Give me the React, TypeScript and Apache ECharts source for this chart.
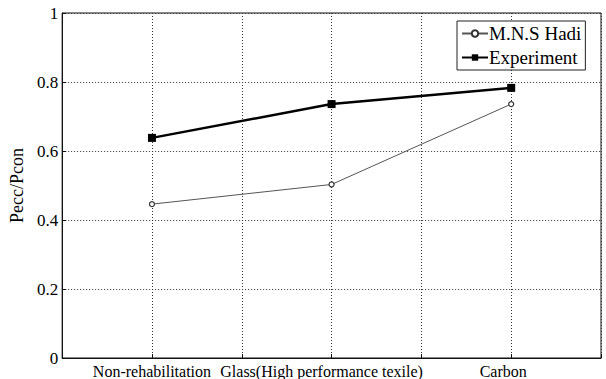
import React, { useEffect, useRef } from "react";
import * as echarts from "echarts";

// Retrofit types, placed at x = 1, 3, 5 on a 0–6 axis
const categories = ["Non-rehabilitation", "Glass(High performance texile)", "Carbon"];
const categoryPositions = [1, 3, 5];
// Pecc/Pcon ratios
const hadiValues = [0.446, 0.503, 0.736];
const experimentValues = [0.638, 0.736, 0.783];
const yTicks = [0, 0.2, 0.4, 0.6, 0.8, 1];

const SERIF = "Liberation Serif";

export default function App() {
  const ref = useRef<HTMLDivElement>(null);

  useEffect(() => {
    if (!ref.current) return;
    const chart = echarts.init(ref.current, null, { renderer: "svg" });

    const labelKeys = ["a", "b", "c"];
    const xLabelText = { fontFamily: SERIF, fontSize: 16, color: "#000" };
    const option: any = {
      animation: false,
      backgroundColor: "#fff",
      textStyle: { fontFamily: SERIF },
      grid: {
        left: 59,
        right: 5,
        top: 13,
        bottom: 21,
        show: true,
        borderColor: "#111",
        borderWidth: 1,
        backgroundColor: "transparent",
      },
      legend: {
        left: 457,
        top: 21,
        orient: "vertical",
        itemWidth: 26,
        itemHeight: 8,
        itemGap: 5,
        padding: [3, 4, 3, 4],
        borderColor: "#222",
        borderWidth: 1,
        backgroundColor: "#fff",
        textStyle: { fontFamily: SERIF, fontSize: 19, color: "#000", padding: [0, 0, 0, -4] },
        data: ["M.N.S Hadi", "Experiment"],
      },
      xAxis: {
        type: "value",
        min: 0,
        max: 6,
        interval: 1,
        axisLine: { lineStyle: { color: "#111", width: 1 } },
        axisTick: { show: true, inside: true, length: 4, lineStyle: { color: "#111" } },
        splitLine: { show: true, lineStyle: { color: "#333", type: [1, 2], width: 1 } },
        axisLabel: {
          margin: 5,
          ...xLabelText,
          formatter: (v: number) => {
            const i = categoryPositions.indexOf(v);
            return i < 0 ? "" : `{${labelKeys[i]}|${categories[i]}}`;
          },
          // right padding nudges the two right-hand labels slightly left of their marks
          rich: {
            a: { ...xLabelText, padding: [0, 0, 0, 0] },
            b: { ...xLabelText, padding: [0, 20, 0, 0] },
            c: { ...xLabelText, padding: [0, 16, 0, 0] },
          },
        },
      },
      yAxis: {
        type: "value",
        min: yTicks[0],
        max: yTicks[yTicks.length - 1],
        interval: 0.2,
        name: "Pecc/Pcon",
        nameLocation: "middle",
        nameGap: 29,
        nameTextStyle: { fontFamily: SERIF, fontSize: 18, color: "#000" },
        axisLine: { show: true, lineStyle: { color: "#111", width: 1 } },
        axisTick: { show: true, inside: true, length: 4, lineStyle: { color: "#111" } },
        splitLine: { show: true, lineStyle: { color: "#333", type: [1, 2], width: 1 } },
        axisLabel: { margin: 4, fontFamily: SERIF, fontSize: 17, color: "#000" },
      },
      series: [
        {
          name: "M.N.S Hadi",
          type: "line",
          data: categoryPositions.map((x, i) => [x, hadiValues[i]]),
          symbol: "circle",
          symbolSize: 5,
          showSymbol: true,
          lineStyle: { color: "#555", width: 1 },
          itemStyle: { color: "#fff", borderColor: "#333", borderWidth: 1.2 },
          z: 3,
        },
        {
          name: "Experiment",
          type: "line",
          data: categoryPositions.map((x, i) => [x, experimentValues[i]]),
          symbol: "rect",
          symbolSize: 8,
          lineStyle: { color: "#000", width: 2.5 },
          itemStyle: { color: "#000" },
          z: 4,
        },
      ],
    };

    chart.setOption(option);
    return () => chart.dispose();
  }, []);

  return (
    <div
      ref={ref}
      style={{ position: "fixed", left: 0, top: 0, width: 606, height: 379, background: "#fff" }}
    />
  );
}
